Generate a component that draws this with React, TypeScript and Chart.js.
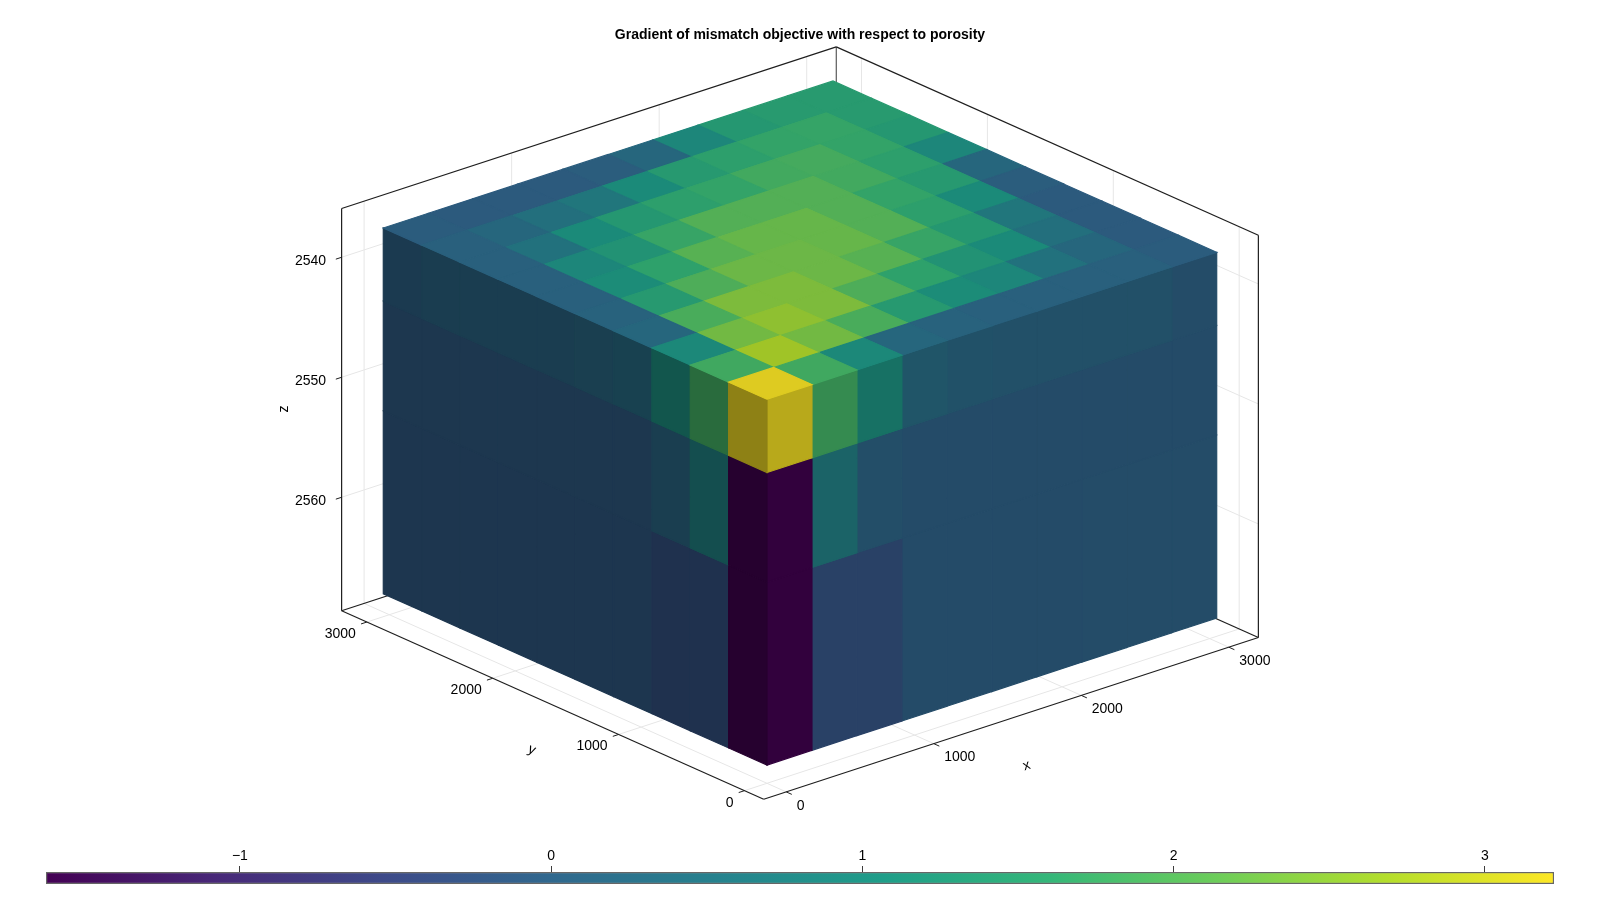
import React, { useEffect, useRef } from "react";
import { Chart, registerables } from "chart.js";

Chart.register(...registerables);

const chartTitle = "Gradient of mismatch objective with respect to porosity";
const cellEdges = [0, 304.8, 609.6, 914.4, 1219.2, 1524, 1828.8, 2133.6, 2438.4, 2743.2, 3048];
const depthEdges = [2537.46, 2543.56, 2552.7, 2567.94];
const horizontalTicks = [0, 1000, 2000, 3000];
const depthTicks = [2540, 2550, 2560];
const colorbarTicks = [-1, 0, 1, 2, 3];
const colorMin = -1.623;
const colorMax = 3.222;

// Cell values of the top layer: row = x index, column = y index
const topLayer = [
  [3.22, 1.8, 1.0, 0.25, 0.15, 0.1, 0.1, 0.1, 0.1, 0.0],
  [1.8, 2.7, 2.3, 1.9, 1.4, 1.1, 0.95, 0.5, 0.25, -0.03],
  [1.0, 2.3, 2.55, 2.4, 1.95, 1.6, 1.25, 1.05, 0.45, -0.03],
  [0.25, 1.9, 2.4, 2.4, 2.25, 2.05, 1.7, 1.35, 0.6, -0.03],
  [0.15, 1.4, 1.95, 2.25, 2.25, 2.2, 2.0, 1.55, 1.05, 0.02],
  [0.1, 1.1, 1.6, 2.05, 2.2, 2.2, 2.0, 1.65, 1.4, 0.25],
  [0.1, 0.95, 1.25, 1.7, 2.0, 2.0, 2.0, 1.82, 1.55, 0.95],
  [0.1, 0.5, 1.05, 1.35, 1.55, 1.65, 1.82, 1.85, 1.65, 1.35],
  [0.1, 0.25, 0.45, 0.6, 1.05, 1.4, 1.55, 1.65, 1.68, 1.43],
  [0.0, -0.03, -0.03, -0.03, 0.02, 0.25, 0.95, 1.35, 1.43, 1.43],
];
// Values of the two lower layers on the x = 0 side (by y index)
const leftLayer2 = [-1.62, 0.7, 0.12, -0.12, -0.12, -0.12, -0.12, -0.12, -0.12, -0.12];
const leftLayer3 = [-1.62, -0.3, -0.3, -0.13, -0.13, -0.13, -0.13, -0.13, -0.13, -0.13];
// Values of the two lower layers on the y = 0 side (by x index)
const rightLayer2 = [-1.62, 0.65, 0.05, -0.02, -0.02, -0.02, -0.02, -0.02, -0.02, -0.02];
const rightLayer3 = [-1.62, -0.28, -0.28, -0.03, -0.03, -0.02, -0.02, 0.0, 0.0, 0.0];

const viridis = [
  [68, 1, 84], [72, 40, 120], [62, 74, 137], [49, 104, 142], [38, 130, 142],
  [31, 158, 137], [53, 183, 121], [109, 205, 89], [180, 222, 44], [253, 231, 37],
];

const SHADE_TOP = 0.88;
const SHADE_LEFT = 0.56;
const SHADE_RIGHT = 0.73;
const FONT = "'Liberation Sans', Arial, Helvetica, sans-serif";
const TITLE_TOP = 26.6;
const TITLE_BOTTOM = 2;
const CHART_TOP = TITLE_TOP + 16.8 + TITLE_BOTTOM;

const xLow = -152.4, xHigh = 3200.4;
const zLow = 2535.94, zHigh = 2569.46;

function project(x: number, y: number, z: number) {
  return {
    x: 767 + x * 0.14754 - y * 0.12589,
    y: 399.3 - x * 0.04823 - y * 0.0562 + (z - depthEdges[0]) * 12,
  };
}

function colorFor(v: number, shade: number) {
  const t = Math.min(1, Math.max(0, (v - colorMin) / (colorMax - colorMin))) * (viridis.length - 1);
  const i = Math.min(viridis.length - 2, Math.floor(t));
  const f = t - i;
  const c = viridis[i].map((a, k) => Math.round((a + (viridis[i + 1][k] - a) * f) * shade));
  return `rgb(${c[0]},${c[1]},${c[2]})`;
}

function polygon(pts: { x: number; y: number }[], color: string) {
  return {
    data: [...pts, pts[0]],
    showLine: true,
    fill: "shape",
    backgroundColor: color,
    borderColor: color,
    borderWidth: 1.2,
    borderDash: [5000, 1],
    pointRadius: 0,
    tension: 0,
  };
}

function segment(a: { x: number; y: number }, b: { x: number; y: number }, color: string, width: number) {
  return {
    data: [a, b],
    showLine: true,
    fill: false,
    borderColor: color,
    borderWidth: width,
    borderDash: [5000, 1],
    pointRadius: 0,
    tension: 0,
  };
}

function buildDatasets() {
  const sets: any[] = [];
  const top = depthEdges[0];
  const leftValues = [topLayer[0], leftLayer2, leftLayer3];
  const rightValues = [topLayer.map((r) => r[0]), rightLayer2, rightLayer3];
  for (let i = 0; i < 10; i++) {
    for (let j = 0; j < 10; j++) {
      sets.push(
        polygon(
          [
            project(cellEdges[i], cellEdges[j], top),
            project(cellEdges[i + 1], cellEdges[j], top),
            project(cellEdges[i + 1], cellEdges[j + 1], top),
            project(cellEdges[i], cellEdges[j + 1], top),
          ],
          colorFor(topLayer[i][j], SHADE_TOP)
        )
      );
    }
  }
  for (let k = 0; k < 3; k++) {
    for (let n = 0; n < 10; n++) {
      sets.push(
        polygon(
          [
            project(0, cellEdges[n], depthEdges[k]),
            project(0, cellEdges[n + 1], depthEdges[k]),
            project(0, cellEdges[n + 1], depthEdges[k + 1]),
            project(0, cellEdges[n], depthEdges[k + 1]),
          ],
          colorFor(leftValues[k][n], SHADE_LEFT)
        )
      );
      sets.push(
        polygon(
          [
            project(cellEdges[n], 0, depthEdges[k]),
            project(cellEdges[n + 1], 0, depthEdges[k]),
            project(cellEdges[n + 1], 0, depthEdges[k + 1]),
            project(cellEdges[n], 0, depthEdges[k + 1]),
          ],
          colorFor(rightValues[k][n], SHADE_RIGHT)
        )
      );
    }
  }

  const frame = "rgb(30,30,30)";
  const corner = (x: number, y: number, z: number) => project(x, y, z);
  sets.push(segment(corner(xLow, xHigh, zLow), corner(xHigh, xHigh, zLow), frame, 1.2));
  sets.push(segment(corner(xHigh, xHigh, zLow), corner(xHigh, xLow, zLow), frame, 1.2));
  sets.push(segment(corner(xHigh, xLow, zLow), corner(xHigh, xLow, zHigh), frame, 1.2));
  sets.push(segment(corner(xHigh, xLow, zHigh), corner(xLow, xLow, zHigh), frame, 1.2));
  sets.push(segment(corner(xLow, xLow, zHigh), corner(xLow, xHigh, zHigh), frame, 1.2));
  sets.push(segment(corner(xLow, xHigh, zHigh), corner(xLow, xHigh, zLow), frame, 1.2));
  sets.push(segment(corner(xHigh, xHigh, zLow), corner(xHigh, xHigh, zHigh), "rgb(90,90,90)", 1.2));
  sets.push(segment(corner(xLow, xHigh, zHigh), corner(xHigh, xHigh, zHigh), frame, 1.2));
  sets.push(segment(corner(xHigh, xLow, zHigh), corner(xHigh, xHigh, zHigh), frame, 1.2));

  const tick = "rgb(30,30,30)";
  const ticks: any[] = [];
  const grid = "rgb(230,230,230)";
  const grids: any[] = [];
  for (const v of horizontalTicks) {
    grids.push(segment(project(v, xHigh, zLow), project(v, xHigh, zHigh), grid, 1));
    grids.push(segment(project(v, xLow, zHigh), project(v, xHigh, zHigh), grid, 1));
    grids.push(segment(project(xHigh, v, zLow), project(xHigh, v, zHigh), grid, 1));
    grids.push(segment(project(xLow, v, zHigh), project(xHigh, v, zHigh), grid, 1));
    const a = project(v, xLow, zHigh);
    ticks.push(segment(a, { x: a.x + 5.6, y: a.y + 2.5 }, tick, 1));
    const b = project(xLow, v, zHigh);
    ticks.push(segment(b, { x: b.x - 5.8, y: b.y + 1.9 }, tick, 1));
  }
  for (const z of depthTicks) {
    grids.push(segment(project(xLow, xHigh, z), project(xHigh, xHigh, z), grid, 1));
    grids.push(segment(project(xHigh, xHigh, z), project(xHigh, xLow, z), grid, 1));
    const c = project(xLow, xHigh, z);
    ticks.push(segment(c, { x: c.x - 5.8, y: c.y + 1.9 }, tick, 1));
  }
  return [...sets, ...ticks, ...grids];
}

const axisTextPlugin = {
  id: "axisText",
  afterDraw(chart: any) {
    const { ctx, scales } = chart;
    const sx = (v: number) => scales.x.getPixelForValue(v);
    const sy = (v: number) => scales.y.getPixelForValue(v);
    ctx.save();
    ctx.fillStyle = "#000";
    ctx.font = `14px ${FONT}`;
    ctx.textBaseline = "middle";
    ctx.textAlign = "left";
    for (const v of horizontalTicks) {
      const a = project(v, xLow, zHigh);
      ctx.fillText(String(v), sx(a.x) + 10.5, sy(a.y) + 14);
    }
    ctx.textAlign = "right";
    for (const v of horizontalTicks) {
      const b = project(xLow, v, zHigh);
      ctx.fillText(String(v), sx(b.x) - 11, sy(b.y) + 12);
    }
    for (const z of depthTicks) {
      const c = project(xLow, xHigh, z);
      ctx.fillText(String(z), sx(c.x) - 15.5, sy(c.y) + 4);
    }
    ctx.textAlign = "center";
    const rotated = (text: string, px: number, py: number, angle: number) => {
      ctx.save();
      ctx.translate(sx(px), sy(py));
      ctx.rotate(angle);
      ctx.fillText(text, 0, 0);
      ctx.restore();
    };
    rotated("x", 1026.7, 765.7, (-18 * Math.PI) / 180);
    rotated("y", 531.7, 750, (24 * Math.PI) / 180);
    rotated("z", 284, 409, -Math.PI / 2);
    ctx.restore();
  },
};

export default function App() {
  const mainRef = useRef<HTMLCanvasElement>(null);
  const barRef = useRef<HTMLCanvasElement>(null);

  useEffect(() => {
    const main = new Chart(mainRef.current as any, {
      type: "scatter",
      data: { datasets: buildDatasets() },
      plugins: [axisTextPlugin],
      options: {
        animation: false,
        responsive: false,
        devicePixelRatio: 1,
        clip: false,
        scales: {
          x: { type: "linear", display: false, min: 0, max: 1600 },
          y: { type: "linear", display: false, min: CHART_TOP, max: 900, reverse: true },
        },
        plugins: {
          legend: { display: false },
          tooltip: { enabled: false },
          title: {
            display: true,
            text: chartTitle,
            color: "#000",
            font: { family: FONT, size: 14, weight: "bold" },
            padding: { top: TITLE_TOP, bottom: TITLE_BOTTOM },
          },
        },
      },
    } as any);

    const bar = new Chart(barRef.current as any, {
      type: "bar",
      data: {
        labels: ["colorbar"],
        datasets: [
          {
            data: [[colorMin, colorMax]],
            backgroundColor: (c: any) => {
              const area = c.chart.chartArea;
              if (!area) return "#888";
              const g = c.chart.ctx.createLinearGradient(area.left, 0, area.right, 0);
              viridis.forEach((s, i) => g.addColorStop(i / (viridis.length - 1), `rgb(${s[0]},${s[1]},${s[2]})`));
              return g;
            },
            borderColor: "rgba(0,0,0,0.6)",
            borderWidth: 1.5,
            borderSkipped: false,
            barPercentage: 1,
            categoryPercentage: 1,
          },
        ],
      },
      options: {
        indexAxis: "y",
        animation: false,
        responsive: false,
        devicePixelRatio: 1,
        layout: { padding: { left: 46, right: 46, top: 16, bottom: 16 } },
        scales: {
          x: {
            position: "top",
            min: colorMin,
            max: colorMax,
            afterBuildTicks: (s: any) => {
              s.ticks = colorbarTicks.map((v) => ({ value: v }));
            },
            afterFit: (s: any) => {
              s.height = 30;
            },
            ticks: {
              autoSkip: false,
              maxRotation: 0,
              padding: 1,
              color: "#000",
              font: { family: FONT, size: 14 },
              callback: (v: any) => (Number(v) < 0 ? "\u2212" + Math.abs(Number(v)) : String(v)),
            },
            grid: { drawOnChartArea: false, drawTicks: true, tickLength: 6, color: "rgb(60,60,60)", lineWidth: 1 },
            border: { display: false },
          },
          y: { display: false },
        },
        plugins: { legend: { display: false }, tooltip: { enabled: false } },
      },
    } as any);

    return () => {
      main.destroy();
      bar.destroy();
    };
  }, []);

  return (
    <div style={{ position: "fixed", left: 0, top: 0, width: 1600, height: 900, background: "#fff", overflow: "hidden" }}>
      <canvas ref={mainRef} width={1600} height={900} style={{ position: "absolute", left: 0, top: 0, width: 1600, height: 900 }} />
      <canvas ref={barRef} width={1600} height={74} style={{ position: "absolute", left: 0, top: 826, width: 1600, height: 74 }} />
    </div>
  );
}
